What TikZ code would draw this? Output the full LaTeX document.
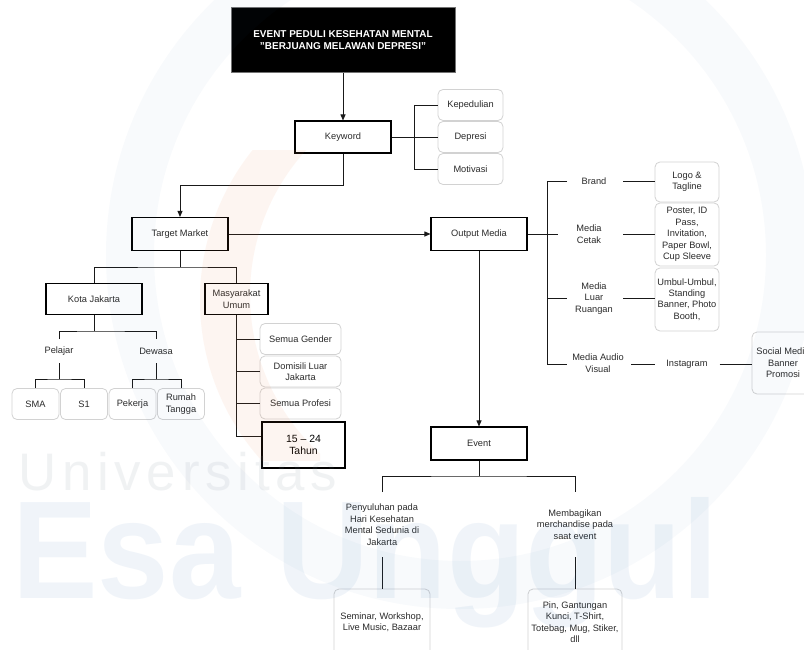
\documentclass[tikz,border=0pt]{standalone}
\usepackage{fontspec}
\setmainfont{Liberation Sans}
\usetikzlibrary{arrows.meta,calc}
\definecolor{txtc}{HTML}{2B2B2B}
\definecolor{softedge}{HTML}{D2D2D2}
\definecolor{wmblue}{HTML}{2F6DB5}
\definecolor{wmgray}{HTML}{7F8C99}
\definecolor{wmorange}{HTML}{F07A3A}
\begin{document}
\begin{tikzpicture}[x=1bp,y=-1bp,
  every node/.style={font=\fontsize{9.3}{11.5}\selectfont, text=txtc, align=center, inner sep=0pt},
  plainbox/.style={draw=black, line width=1.1bp, fill=white},
  softbox/.style={draw=softedge, line width=0.8bp, rounded corners=5bp, fill=white},
  conn/.style={draw=black!90, line width=0.9bp},
  arr/.style={-{Triangle[length=6bp,width=5bp]}},
]
\useasboundingbox (0,0) rectangle (804,650);
\clip (0,0) rectangle (804,650);
\fill[white] (0,0) rectangle (804,650);

% ---------- nodes ----------
\node[fill=black, draw=black!55, line width=1bp, minimum width=224bp, minimum height=65bp, text=white,
      font=\bfseries\fontsize{10}{12}\selectfont] (title) at (343,40.5)
      {EVENT PEDULI KESEHATAN MENTAL\\"BERJUANG MELAWAN DEPRESI"};

\node[plainbox, minimum width=96bp, minimum height=32bp] (kw) at (343,137) {Keyword};
\node[softbox, minimum width=65bp, minimum height=31bp] (kep) at (470.5,105) {Kepedulian};
\node[softbox, minimum width=65bp, minimum height=31bp] (dep) at (470.5,137) {Depresi};
\node[softbox, minimum width=65bp, minimum height=31bp] (mot) at (470.5,169) {Motivasi};

\node[plainbox, minimum width=96bp, minimum height=33bp] (tm) at (180,234) {Target Market};
\node[plainbox, minimum width=96bp, minimum height=33bp] (om) at (479,234) {Output Media};

\node[plainbox, minimum width=96bp, minimum height=31bp] (kj) at (94,299) {Kota Jakarta};
\node[plainbox, minimum width=63bp, minimum height=31bp] (mu) at (236.5,299) {Masyarakat\\Umum};

\node (pel) at (59,351) {Pelajar};
\node (dew) at (156,351) {Dewasa};

\node[softbox, minimum width=47bp, minimum height=31bp] (sma) at (35.5,404) {SMA};
\node[softbox, minimum width=47bp, minimum height=31bp] (s1) at (84,404) {S1};
\node[softbox, minimum width=47bp, minimum height=31bp] (pek) at (132.5,404) {Pekerja};
\node[softbox, minimum width=47bp, minimum height=31bp] (rt) at (181,404) {Rumah\\Tangga};

\node[softbox, minimum width=81bp, minimum height=31bp] (sg) at (300.5,339) {Semua Gender};
\node[softbox, minimum width=81bp, minimum height=31bp] (dom) at (300.5,371.5) {Domisili Luar\\Jakarta};
\node[softbox, minimum width=81bp, minimum height=31bp] (prof) at (300.5,403.5) {Semua Profesi};
\node[plainbox, minimum width=83bp, minimum height=46bp, text=black,
      font=\fontsize{10.5}{12.5}\selectfont] (age) at (303.5,445) {15 – 24\\Tahun};

\node (brand) at (594,181) {Brand};
\node (cetak) at (589,234) {Media\\Cetak};
\node (luar) at (594,298.5) {Media\\Luar\\Ruangan};
\node (audio) at (598,363) {Media Audio\\Visual};
\node (insta) at (687,364) {Instagram};

\node[softbox, minimum width=64bp, minimum height=40bp] (logo) at (687,182) {Logo \&\\Tagline};
\node[softbox, minimum width=64bp, minimum height=63bp] (poster) at (687,234.5) {Poster, ID\\Pass,\\Invitation,\\Paper Bowl,\\Cup Sleeve};
\node[softbox, minimum width=64bp, minimum height=63bp] (umbul) at (687,299.5) {Umbul-Umbul,\\Standing\\Banner, Photo\\Booth,};
\node[softbox, minimum width=62bp, minimum height=62bp] (social) at (783,363) {Social Media\\Banner\\Promosi};

\node[plainbox, minimum width=96bp, minimum height=33bp] (ev) at (479,443.5) {Event};
\node (penyu) at (382,524.5) {Penyuluhan pada\\Hari Kesehatan\\Mental Sedunia di\\Jakarta};
\node (memb) at (575,524.5) {Membagikan\\merchandise pada\\saat event};
\node[softbox, minimum width=96bp, minimum height=66bp] (sem) at (382,622) {Seminar, Workshop,\\Live Music, Bazaar};
\node[softbox, minimum width=94bp, minimum height=66bp] (pin) at (575,622) {Pin, Gantungan\\Kunci, T-Shirt,\\Totebag, Mug, Stiker,\\dll};

% ---------- connectors ----------
\draw[conn,arr] (title.south) -- (kw.north);
\coordinate (kwj) at (414,137);
\draw[conn] (kw.east) -- (kwj);
\draw[conn] (kwj |- kep.west) -- (kwj |- mot.west);
\draw[conn] (kwj |- kep.west) -- (kep.west);
\draw[conn] (kwj) -- (dep.west);
\draw[conn] (kwj |- mot.west) -- (mot.west);

\coordinate (kwdown) at (343,185);
\draw[conn,arr] (kw.south) -- (kwdown) -| (tm.north);
\draw[conn,arr] (tm.east) -- (om.west);

\coordinate (tmbar) at (180,267);
\draw[conn] (tm.south) -- (tmbar);
\draw[conn] (kj.north) |- (tmbar) -| (mu.north);

\coordinate (kjbar) at (94,331);
\coordinate (pelt) at (59,339);
\coordinate (dewt) at (156,339);
\draw[conn] (kj.south) -- (kjbar);
\draw[conn] (pelt) |- (kjbar) -| (dewt);
\coordinate (pelb) at (59,363);
\coordinate (pelbar) at (59,379);
\draw[conn] (pelb) -- (pelbar);
\draw[conn] (sma.north) |- (pelbar) -| (s1.north);
\coordinate (dewb) at (156,363);
\coordinate (dewbar) at (156,379);
\draw[conn] (dewb) -- (dewbar);
\draw[conn] (pek.north) |- (dewbar) -| (rt.north);

\coordinate (muend) at (236.5,436);
\draw[conn] (mu.south) -- (muend) -- (muend -| age.west);
\draw[conn] (mu.south |- sg.west) -- (sg.west);
\draw[conn] (mu.south |- dom.west) -- (dom.west);
\draw[conn] (mu.south |- prof.west) -- (prof.west);

\coordinate (omj) at (558,234);
\draw[conn] (om.east) -- (omj);
\coordinate (brt) at (547,181);
\coordinate (brb) at (547,364);
\coordinate (brandl) at (567,181);
\coordinate (audiol) at (567,364);
\coordinate (luarl) at (567,298);
\draw[conn] (brandl) -- (brt) -- (brb) -- (audiol);
\draw[conn] (brt |- luarl) -- (luarl);

\coordinate (brandr) at (623,181);
\coordinate (cetakr) at (623,234);
\coordinate (luarr) at (623,298);
\draw[conn] (brandr) -- (brandr -| logo.west);
\draw[conn] (cetakr) -- (cetakr -| poster.west);
\draw[conn] (luarr) -- (luarr -| umbul.west);
\coordinate (audior) at (631,364);
\coordinate (instal) at (655,364);
\draw[conn] (audior) -- (instal);
\coordinate (instar) at (719.5,364);
\draw[conn] (instar) -- (instar -| social.west);

\draw[conn,arr] (om.south) -- (ev.north);
\coordinate (evbar) at (479,476);
\draw[conn] (ev.south) -- (evbar);
\coordinate (penyut) at (382,492);
\coordinate (membt) at (575,492);
\draw[conn] (penyut) |- (evbar) -| (membt);
\coordinate (penyub) at (382,557);
\draw[conn] (penyub) -- (sem.north);
\coordinate (membb) at (575,557);
\draw[conn] (membb) -- (pin.north);

% ---------- faint watermark ----------
\draw[wmblue, line width=48bp, opacity=0.03] (460,255) circle[radius=330];
\begin{scope}
  \clip (0,150) rectangle (320,460);
  \fill[wmorange, opacity=0.07, even odd rule] (440,300) circle[radius=240] (465,295) circle[radius=215];
\end{scope}
\node[anchor=base west, font=\fontsize{53}{53}\selectfont\addfontfeature{LetterSpace=11},
      text=wmgray, text opacity=0.11] (wmu) at (18,490) {Universitas};
\node[anchor=base west, font=\bfseries\fontsize{140}{140}\selectfont,
      text=wmblue, text opacity=0.07] (wme) at (12,598) {\scalebox{0.92}[1]{Esa Unggul}};
\end{tikzpicture}
\end{document}
